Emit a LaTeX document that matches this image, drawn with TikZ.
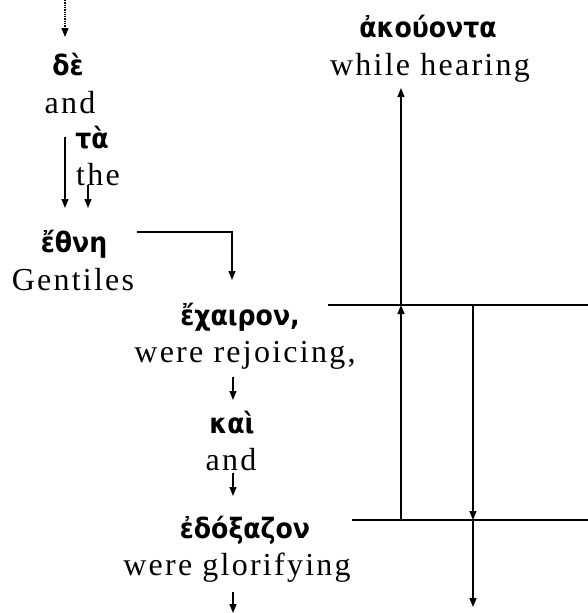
\documentclass[tikz,border=0pt]{standalone}
\usepackage{fontspec}
\setmainfont{Liberation Serif}
\newfontfamily\greekfont{DejaVu Sans Condensed}
\newfontfamily\glossfont[LetterSpace=7]{Liberation Serif}
\usetikzlibrary{arrows.meta}

\tikzset{
  greek/.style={font=\greekfont\bfseries\fontsize{28}{28}\selectfont, inner sep=0pt, anchor=base},
  gloss/.style={font=\glossfont\fontsize{32}{32}\selectfont, inner sep=0pt, anchor=base},
  flow/.style={-{Triangle[length=9pt,width=7pt]}, line width=1.3pt},
}

\begin{document}
\begin{tikzpicture}[x=1pt, y=-1pt]
\useasboundingbox (0,0) rectangle (588,613);
%%%%% Words %%%%%
\node[greek] (de) at (68,75) {δὲ};
\node[gloss] (deg) at (70,113) {and};
\node[greek] (ta) at (92,148) {τὰ};
\node[gloss] (tag) at (98,185) {the};
\node[greek] (ethne) at (74,252) {ἔθνη};
\node[gloss] (ethneg) at (73,290) {Gentiles};
\node[greek] (akouonta) at (428,37) {ἀκούοντα};
\node[gloss] (akouontag) at (430,75) {while hearing};
\node[greek] (echairon) at (240,325) {ἔχαιρον,};
\node[gloss] (echairong) at (245,362) {were rejoicing,};
\node[greek] (kai) at (232,433) {καὶ};
\node[gloss] (kaig) at (231,470) {and};
\node[greek] (edoxazon) at (245,538) {ἐδόξαζον};
\node[gloss] (edoxazong) at (237,575) {were glorifying};
%%%%% Junctions %%%%%
\coordinate (in) at (65,0);
\coordinate (l1) at (328,305);
\coordinate (l2) at (352,520);
\coordinate (j1) at (401,305);
\coordinate (j2) at (473,305);
\coordinate (j3) at (401,520);
\coordinate (j4) at (473,520);
\coordinate (out) at (473,607);
\coordinate (turn) at (232,280);
%%%%% Lines %%%%%
\draw[line width=1.3pt] (l1)--(588,305);
\draw[line width=1.3pt] (l2)--(588,520);
\draw[flow, densely dotted] (in)--(65,37);
\draw[flow] (65,137)--(65,208);
\draw[flow] (88,185)--(88,208);
\draw[flow] (137,232) -| (turn);
\draw[flow] (j3)--(j1);
\draw[flow] (j1)--(401,88);
\draw[flow] (j2)--(j4);
\draw[flow] (j4)--(out);
\foreach \a/\b in {377/400,473/496,592/613}{
\draw[flow] (233,\a)--(233,\b);
}
\end{tikzpicture}
\end{document}
